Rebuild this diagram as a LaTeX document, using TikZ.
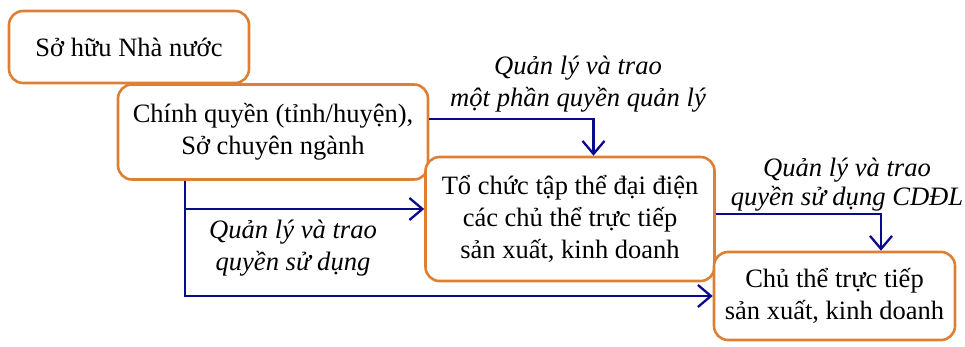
\documentclass[tikz,border=0pt]{standalone}
\usepackage{fontspec}
\setmainfont{Liberation Serif}
\usetikzlibrary{arrows.meta,calc}
\definecolor{boxorange}{RGB}{222,128,52}
\definecolor{arrblue}{RGB}{10,10,140}
\begin{document}
\begin{tikzpicture}[x=1pt,y=-1pt,
  box/.style={draw=boxorange,line width=2.6pt,rounded corners=14pt,fill=white,
    align=center,font=\fontsize{26.5}{32}\selectfont,inner sep=0pt},
  arr/.style={draw=arrblue,line width=2.3pt,-{Straight Barb[length=13pt,width=22pt,line width=2.3pt]}},
  lab/.style={align=center,font=\fontsize{26.6}{32}\selectfont\itshape,inner sep=0pt}]
\useasboundingbox (0,0) rectangle (965,347);
\node[box,minimum width=240pt,minimum height=72pt] (A) at (129,47) {Sở hữu Nhà nước};
\node[box,minimum width=310pt,minimum height=95pt] (B) at (273,132) {Chính quyền (tỉnh/huyện),\\Sở chuyên ngành};
\node[box,minimum width=289pt,minimum height=124pt] (C) at (570,219) {Tổ chức tập thể đại điện\\các chủ thể trực tiếp\\sản xuất, kinh doanh};
\node[box,minimum width=241pt,minimum height=88pt] (D) at (834.5,296) {Chủ thể trực tiếp\\sản xuất, kinh doanh};
% connectors
\coordinate (b1) at (B.east |- 0,119);
\coordinate (c1) at ($(C.north)+(23.5,0)$);
\draw[arr] (b1) -| (c1);
\coordinate (b2) at (B.south -| 185,0);
\coordinate (j) at (185,209);
\draw[arr] (j) -- (C.west |- j);
\draw[arr] (b2) |- (D.west |- 0,296);
\coordinate (c2) at (C.east |- 0,214);
\coordinate (d1) at ($(D.north)+(46.5,0)$);
\draw[arr] (c2) -| (d1);
% labels
\node[lab] (l1) at (578,84) {Quản lý và trao\\một phần quyền quản lý};
\node[lab] (l2) at (293,248) {Quản lý và trao\\quyền sử dụng};
\node[lab,font=\fontsize{26.6}{29}\selectfont\itshape] (l3) at (847,185) {Quản lý và trao\\quyền sử dụng CDĐL};
\end{tikzpicture}
\end{document}
